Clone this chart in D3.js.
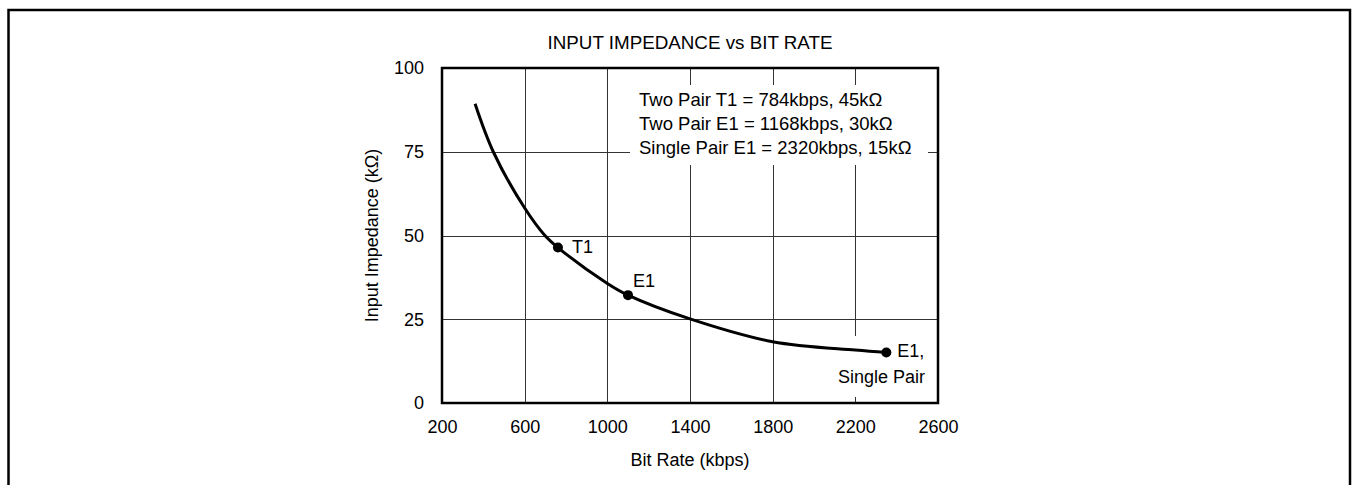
<!DOCTYPE html>
<html>
<head>
<meta charset="utf-8">
<script src="https://cdn.jsdelivr.net/npm/d3@7"></script>
<style>
  body { margin: 0; background: #fff; }
  text { font-family: Arial, "Liberation Sans", sans-serif; fill: #000; }
</style>
</head>
<body>
<div class="chart"></div>
<script>
// values
let xTicks = [200, 600, 1000, 1400, 1800, 2200, 2600];
let yTicks = [0, 25, 50, 75, 100];
let rateKbps = [360, 448, 600, 698, 761, 1000, 1100, 1400, 1800, 2200, 2350];
let impedance = [89.3, 75, 58.2, 50, 46.4, 35.7, 32.2, 25.1, 18.3, 15.8, 15.1];
let markerRate = [761, 1100, 2350];
let markerImp = [46.4, 32.2, 15.1];
let markerLabels = [["T1"], ["E1"], ["E1,", "Single Pair"]];
let legendLines = [
  "Two Pair T1 = 784kbps, 45k\u03A9",
  "Two Pair E1 = 1168kbps, 30k\u03A9",
  "Single Pair E1 = 2320kbps, 15k\u03A9"
];

let svgWidth = 1357;
let svgHeight = 485;
let margin = { top: 68, left: 442 };
let width = 496;
let height = 335;

var svg = d3.select(".chart")
  .append("svg")
  .attr("width", svgWidth)
  .attr("height", svgHeight);

// outer frame of the figure
svg.append("rect")
  .attr("x", 8.5).attr("y", 10)
  .attr("width", 1341.5).attr("height", 490)
  .attr("fill", "none")
  .attr("stroke", "#000")
  .attr("stroke-width", 2.5);

var chartGroup = svg.append("g")
  .attr("transform", `translate(${margin.left}, ${margin.top})`);

let xScale = d3.scaleLinear().domain([200, 2600]).range([0, width]);
let yScale = d3.scaleLinear().domain([0, 100]).range([height, 0]);

// grid
chartGroup.append("g").selectAll("line")
  .data(xTicks.slice(1, -1))
  .enter().append("line")
  .attr("x1", d => Math.round(xScale(d)) + 0.5)
  .attr("x2", d => Math.round(xScale(d)) + 0.5)
  .attr("y1", 0).attr("y2", height)
  .attr("stroke", "#333").attr("stroke-width", 1);

chartGroup.append("g").selectAll("line")
  .data(yTicks.slice(1, -1))
  .enter().append("line")
  .attr("y1", d => Math.round(yScale(d)) + 0.5)
  .attr("y2", d => Math.round(yScale(d)) + 0.5)
  .attr("x1", 0).attr("x2", width)
  .attr("stroke", "#333").attr("stroke-width", 1);

// white patches behind the text blocks (hide the grid there)
chartGroup.append("rect")
  .attr("x", 630 - margin.left).attr("y", 85 - margin.top)
  .attr("width", 298).attr("height", 80)
  .attr("fill", "#fff");
chartGroup.append("rect")
  .attr("x", 835 - margin.left).attr("y", 336 - margin.top)
  .attr("width", 100).attr("height", 61)
  .attr("fill", "#fff");

// axes (labels only, frame drawn below)
let bottomAxis = d3.axisBottom(xScale).tickValues(xTicks).tickSize(0).tickPadding(17)
  .tickFormat(d3.format("d"));
let leftAxis = d3.axisLeft(yScale).tickValues(yTicks).tickSize(0).tickPadding(18)
  .tickFormat(d3.format("d"));

let xAxis = chartGroup.append("g")
  .attr("transform", `translate(0, ${height})`)
  .call(bottomAxis);
let yAxis = chartGroup.append("g").call(leftAxis);
[xAxis, yAxis].forEach(a => {
  a.select(".domain").remove();
  a.selectAll("text").attr("fill", "#000").style("font-size", "18px")
    .style("font-family", "Arial, 'Liberation Sans', sans-serif");
});

// curve
let curveData = rateKbps.map((r, i) => ({ rate: r, imp: impedance[i] }));
let line = d3.line()
  .x(d => xScale(d.rate))
  .y(d => yScale(d.imp))
  .curve(d3.curveCatmullRom.alpha(0.5));

chartGroup.append("path")
  .datum(curveData)
  .attr("d", line)
  .attr("fill", "none")
  .attr("stroke", "#000")
  .attr("stroke-width", 3);

// legend
chartGroup.append("g").selectAll("text")
  .data(legendLines)
  .enter().append("text")
  .attr("x", 639 - margin.left)
  .attr("y", (d, i) => 106 - margin.top + i * 24)
  .style("font-size", "18.5px")
  .text(d => d);

// markers
chartGroup.append("g").selectAll("circle")
  .data(markerRate)
  .enter().append("circle")
  .attr("cx", d => xScale(d))
  .attr("cy", (d, i) => yScale(markerImp[i]))
  .attr("r", 5)
  .attr("fill", "#000");

chartGroup.append("text")
  .attr("x", xScale(markerRate[0]) + 14)
  .attr("y", yScale(markerImp[0]) + 5)
  .style("font-size", "18px")
  .text(markerLabels[0][0]);
chartGroup.append("text")
  .attr("x", xScale(markerRate[1]) + 5)
  .attr("y", yScale(markerImp[1]) - 8)
  .style("font-size", "18px")
  .text(markerLabels[1][0]);
chartGroup.append("text")
  .attr("x", xScale(markerRate[2]) + 11)
  .attr("y", yScale(markerImp[2]) + 5)
  .style("font-size", "18px")
  .text(markerLabels[2][0]);
chartGroup.append("text")
  .attr("x", 838 - margin.left)
  .attr("y", 383 - margin.top)
  .style("font-size", "18px")
  .text(markerLabels[2][1]);

// plot frame
chartGroup.append("rect")
  .attr("x", 0).attr("y", 0)
  .attr("width", width).attr("height", height)
  .attr("fill", "none")
  .attr("stroke", "#000")
  .attr("stroke-width", 2.5);

// titles
svg.append("text")
  .attr("x", margin.left + width / 2)
  .attr("y", 49)
  .attr("text-anchor", "middle")
  .style("font-size", "18.8px")
  .text("INPUT IMPEDANCE vs BIT RATE");

svg.append("text")
  .attr("x", margin.left + width / 2)
  .attr("y", 466)
  .attr("text-anchor", "middle")
  .style("font-size", "18px")
  .text("Bit Rate (kbps)");

svg.append("text")
  .attr("transform", `translate(378, ${margin.top + height / 2}) rotate(-90)`)
  .attr("text-anchor", "middle")
  .style("font-size", "18px")
  .text("Input Impedance (k\u03A9)");
</script>
</body>
</html>
